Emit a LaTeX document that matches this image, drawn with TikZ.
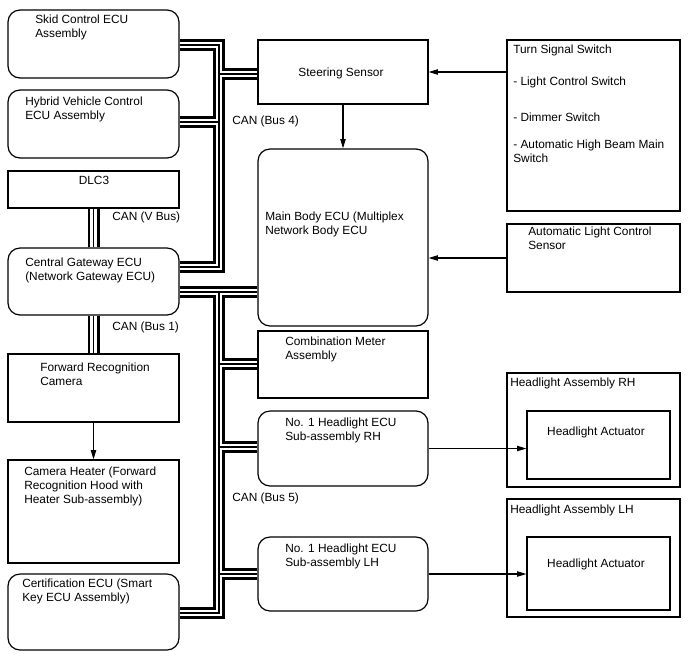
\documentclass[tikz,border=0pt]{standalone}
\usepackage{fontspec}
\setmainfont{Liberation Sans}
\usetikzlibrary{arrows.meta,positioning,fit,calc}

\begin{document}
\begin{tikzpicture}[x=0.75pt,y=-0.75pt,
    ecu/.style={draw=black,line width=0.9pt,rounded corners=9pt,inner sep=0pt},
    blk/.style={draw=black,line width=0.9pt,inner sep=0pt},
    txt/.style={anchor=north west,inner sep=0pt,align=left,font=\fontsize{8.9}{10.5}\selectfont},
    arr/.style={-{Triangle[length=7pt,width=4pt]},line width=0.8pt},
    bus/.style={line width=9pt,postaction={draw=white,line width=4.6pt},
                postaction={draw=black,line width=1pt}}]
  \useasboundingbox (0,0) rectangle (688,658);

  % left column
  \node[ecu,fit={(8,10)(179,78)}] (skid) {};
  \node[ecu,fit={(8,90)(179,158)}] (hybrid) {};
  \node[blk,fit={(8,171)(179,208)}] (dlc) {};
  \node[ecu,fit={(8,248)(179,315)}] (gateway) {};
  \node[blk,fit={(8,354)(179,422)}] (fwdcam) {};
  \node[blk,fit={(8,460)(179,563)}] (heater) {};
  \node[ecu,fit={(8,574)(179,650)}] (cert) {};

  % middle column
  \node[blk,fit={(258,40)(428,104)}] (steer) {};
  \node[ecu,fit={(258,149)(428,326)}] (body) {};
  \node[blk,fit={(258,331)(428,398)}] (meter) {};
  \node[ecu,fit={(258,411)(428,486)}] (hlecuRH) {};
  \node[ecu,fit={(258,537)(428,611)}] (hlecuLH) {};

  % right column
  \node[blk,fit={(507,40)(680,211)}] (turnsw) {};
  \node[blk,fit={(507,224)(680,292)}] (autolight) {};
  \node[blk,fit={(507,373)(680,487)}] (assyRH) {};
  \node[blk,fit={(527,411)(670,479)}] (actRH) {};
  \node[blk,fit={(507,499)(680,617)}] (assyLH) {};
  \node[blk,fit={(527,537)(670,610)}] (actLH) {};

  % texts
  \node[txt] (skidtxt) at (35,15) {Skid Control ECU\\Assembly};
  \node[txt] (hybridtxt) at (25,97) {Hybrid Vehicle Control\\ECU Assembly};
  \node[txt,anchor=north] (dlctxt) at (94,176) {DLC3};
  \node[txt] (vbus) at (112,212) {CAN (V Bus)};
  \node[txt] (gatewaytxt) at (25,258) {Central Gateway ECU\\(Network Gateway ECU)};
  \node[txt] (bus1) at (112,322) {CAN (Bus 1)};
  \node[txt] (fwdcamtxt) at (40,363) {Forward Recognition\\Camera};
  \node[txt] (heatertxt) at (24,467) {Camera Heater (Forward\\Recognition Hood with\\Heater Sub-assembly)};
  \node[txt] (certtxt) at (22,579) {Certification ECU (Smart\\Key ECU Assembly)};
  \node[txt,anchor=north] (steertxt) at (341,68) {Steering Sensor};
  \node[txt] (bus4) at (232,116) {CAN (Bus 4)};
  \node[txt] (bodytxt) at (265,212) {Main Body ECU (Multiplex\\Network Body ECU};
  \node[txt] (metertxt) at (285,337) {Combination Meter\\Assembly};
  \node[txt] (hlecuRHtxt) at (285,418) {No. 1 Headlight ECU\\Sub-assembly RH};
  \node[txt] (bus5) at (232,493) {CAN (Bus 5)};
  \node[txt] (hlecuLHtxt) at (285,544) {No. 1 Headlight ECU\\Sub-assembly LH};
  \node[txt] (turnswtxt) at (513,45) {Turn Signal Switch};
  \node[txt] (lightsw) at (513,77) {- Light Control Switch};
  \node[txt] (dimmersw) at (513,113) {- Dimmer Switch};
  \node[txt] (hbeamsw) at (513,140) {- Automatic High Beam Main\\Switch};
  \node[txt] (autolighttxt) at (528,227) {Automatic Light Control\\Sensor};
  \node[txt] (assyRHtxt) at (510,378) {Headlight Assembly RH};
  \node[txt,anchor=north] (actRHtxt) at (596,427) {Headlight Actuator};
  \node[txt] (assyLHtxt) at (510,505) {Headlight Assembly LH};
  \node[txt,anchor=north] (actLHtxt) at (596,559) {Headlight Actuator};

  % CAN buses
  \coordinate (trunk) at (219,0);
  \draw[bus] (skid.east |- 0,45) -| (trunk |- 0,267) -- (gateway.east |- 0,267)
    (hybrid.east |- 0,122) -- (trunk |- 0,122)
    (trunk |- 0,74) -- (steer.west |- 0,74);
  \draw[bus] (gateway.east |- 0,292) -- (body.west |- 0,292)
    (trunk |- 0,292) |- (cert.east |- 0,613)
    (trunk |- 0,364) -- (meter.west |- 0,364)
    (trunk |- 0,447) -- (hlecuRH.west |- 0,447)
    (trunk |- 0,574) -- (hlecuLH.west |- 0,574);
  \draw[bus] (dlc.south) -- (gateway.north)
    (gateway.south) -- (fwdcam.north);

  % signal arrows
  \draw[arr] (steer.east -| turnsw.west) -- (steer.east);
  \draw[arr] (steer.south) -- (body.north);
  \draw[arr] (autolight.west) -- (autolight.west -| body.east);
  \draw[arr] (fwdcam.south) -- (heater.north);
  \draw[arr] (hlecuRH.east) -- (hlecuRH.east -| actRH.west);
  \draw[arr] (hlecuLH.east) -- (hlecuLH.east -| actLH.west);
\end{tikzpicture}
\end{document}
